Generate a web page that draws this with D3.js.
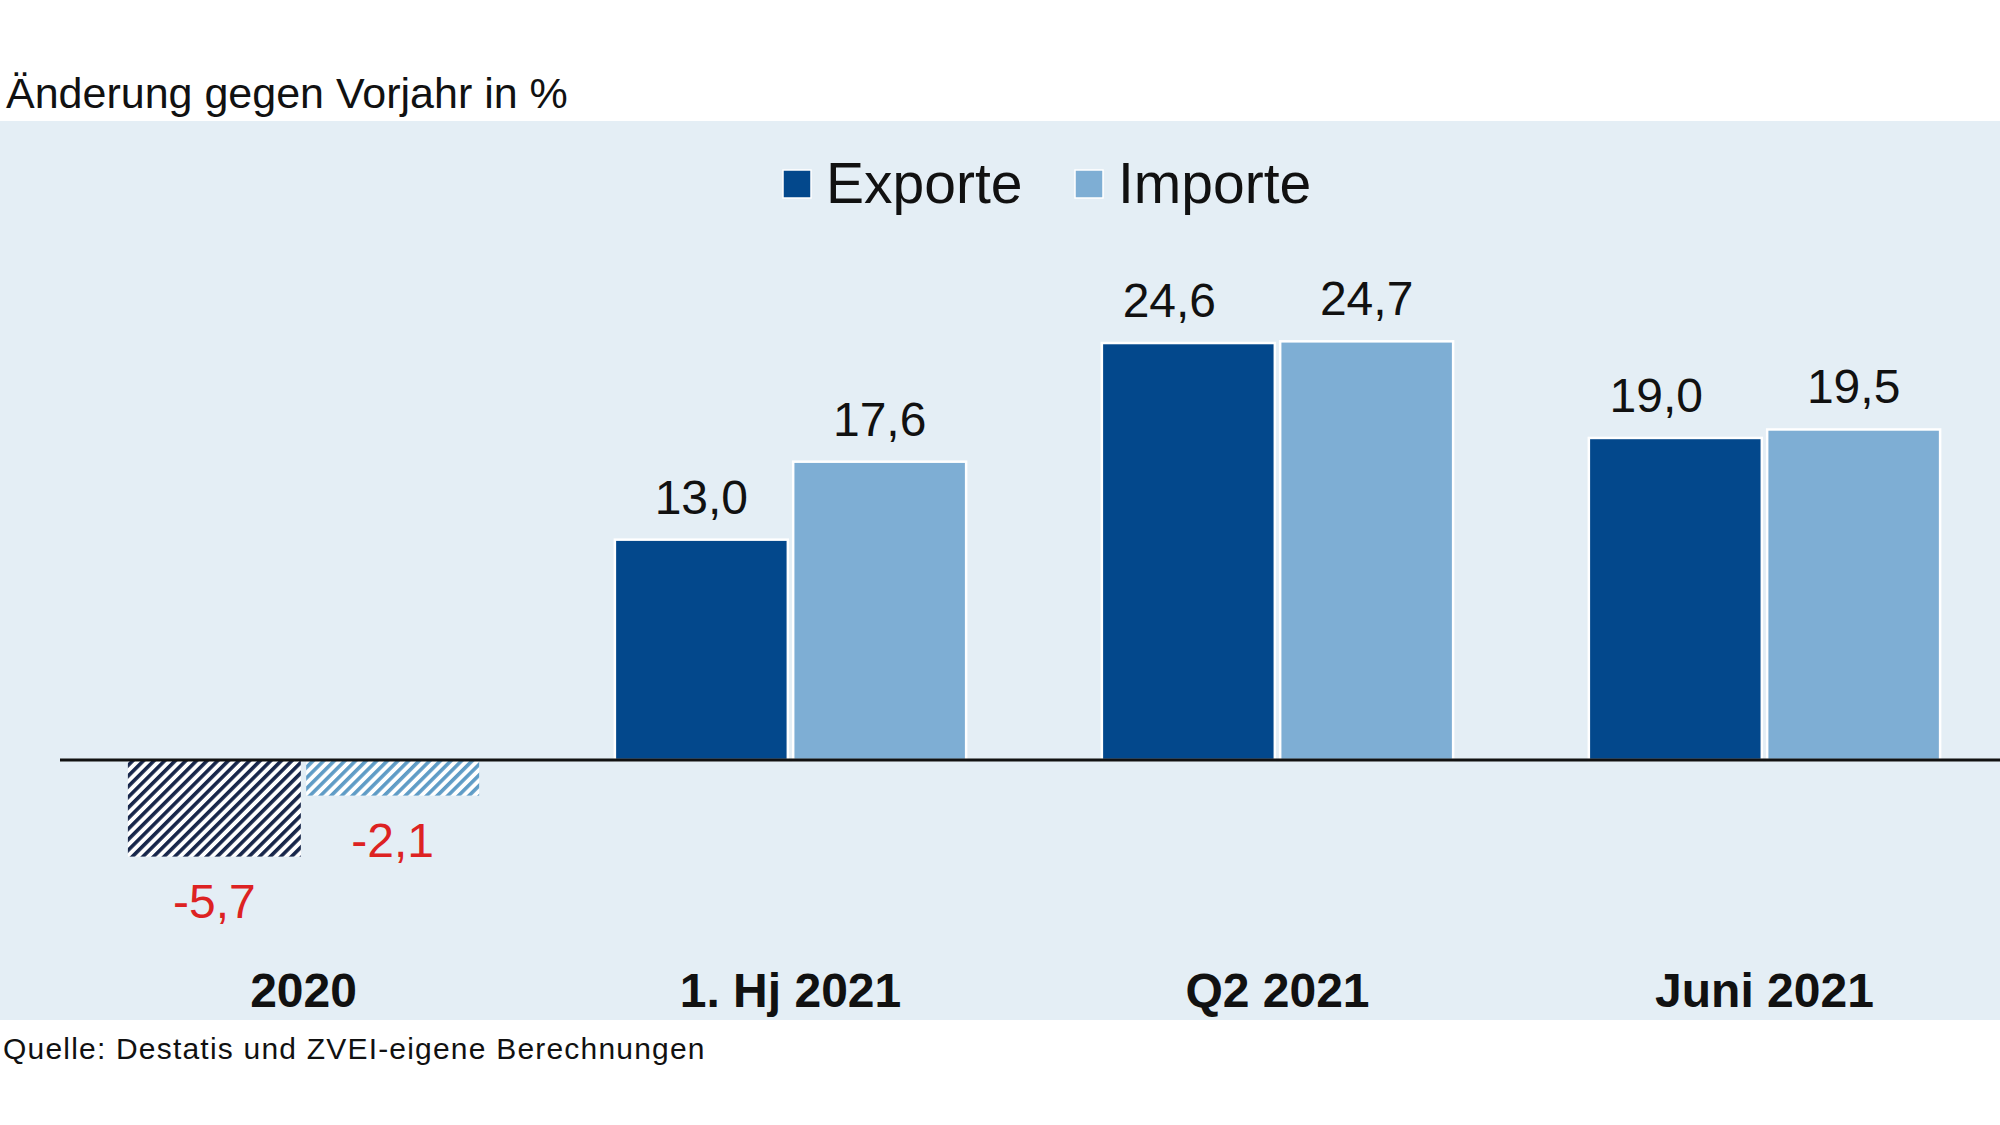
<!DOCTYPE html>
<html>
<head>
<meta charset="utf-8">
<script src="https://cdn.jsdelivr.net/npm/d3@7"></script>
<style>
    body { margin: 0; background: #ffffff; }
    svg text { font-family: "Liberation Sans", Arial, sans-serif; }
</style>
</head>
<body>
<div id="chart"></div>
<script>
// chart data
var categories = ["2020", "1. Hj 2021", "Q2 2021", "Juni 2021"];
var series = ["Exporte", "Importe"];
var exporte = [-5.7, 13.0, 24.6, 19.0];
var importe = [-2.1, 17.6, 24.7, 19.5];

var title = "Änderung gegen Vorjahr in %";
var source = "Quelle: Destatis und ZVEI-eigene Berechnungen";

var colors = {Exporte: "#03488c", Importe: "#7eaed4"};
var hatch_colors = {Exporte: "#17264a", Importe: "#5f9cc6"};

var width = 2000, height = 1125;

// german number format, 1 decimal
var de = d3.formatLocale({decimal: ",", thousands: ".", grouping: [3], currency: ["", " €"], minus: "-"});
var fmt = de.format(".1f");

var svg = d3.select("#chart").append("svg")
    .attr("width", width)
    .attr("height", height);

// hatch patterns for negative (preliminary) bars
var defs = svg.append("defs");
series.forEach(function(s) {
    var p = defs.append("pattern")
        .attr("id", "hatch-" + s)
        .attr("patternUnits", "userSpaceOnUse")
        .attr("width", 7.5)
        .attr("height", 7.5)
        .attr("patternTransform", "rotate(45)");
    p.append("rect").attr("width", 7.5).attr("height", 7.5).attr("fill", "#ffffff");
    p.append("rect").attr("width", 3.6).attr("height", 7.5).attr("fill", hatch_colors[s]);
});

// light panel
svg.append("rect")
    .attr("x", 0).attr("y", 121)
    .attr("width", width).attr("height", 899)
    .attr("fill", "#e4eef5");

svg.append("text")
    .attr("x", 6).attr("y", 108)
    .attr("font-size", 43)
    .attr("fill", "#111")
    .text(title);

svg.append("text")
    .attr("x", 3).attr("y", 1059)
    .attr("font-size", 30)
    .attr("letter-spacing", 1.2)
    .attr("fill", "#111")
    .text(source);

var x0 = d3.scaleBand()
    .domain(categories)
    .range([60, 2008])
    .paddingInner(0.2787)
    .paddingOuter(0.1394);

var x1 = d3.scaleBand()
    .domain(series)
    .range([0, x0.bandwidth()])
    .paddingInner(0.03);

var y = d3.scaleLinear()
    .domain([-10, 30])
    .range([760 + 169.5, 760 - 508.5]);

var rows = [];
categories.forEach(function(c, i) {
    rows.push({cat: c, s: "Exporte", v: exporte[i], other: importe[i]});
    rows.push({cat: c, s: "Importe", v: importe[i], other: exporte[i]});
});

var g = svg.append("g");

g.selectAll("rect.bar")
    .data(rows)
    .enter()
    .append("rect")
    .attr("class", "bar")
    .attr("x", function(d) { return x0(d.cat) + x1(d.s); })
    .attr("y", function(d) { return y(Math.max(0, d.v)); })
    .attr("width", x1.bandwidth())
    .attr("height", function(d) { return Math.abs(y(d.v) - y(0)); })
    .attr("fill", function(d) {
        return d.v < 0 ? "url(#hatch-" + d.s + ")" : colors[d.s];
    })
    .attr("stroke", function(d) { return d.v < 0 ? "none" : "#ffffff"; })
    .attr("stroke-width", 2.5);

// value labels
g.selectAll("text.val")
    .data(rows)
    .enter()
    .append("text")
    .attr("class", "val")
    .attr("x", function(d) {
        var cx = x0(d.cat) + x1(d.s) + x1.bandwidth() / 2;
        // nudge export label left when both bars are almost equal
        if (d.s == "Exporte" && d.v > 0 && Math.abs(d.v - d.other) < 2) {
            cx -= 19;
        }
        return cx;
    })
    .attr("y", function(d) {
        return d.v < 0 ? y(d.v) + 61 : y(d.v) - 26;
    })
    .attr("text-anchor", "middle")
    .attr("font-size", 48)
    .attr("fill", function(d) { return d.v < 0 ? "#dd2222" : "#111"; })
    .text(function(d) { return fmt(d.v); });

// zero line
svg.append("line")
    .attr("x1", 60).attr("x2", width)
    .attr("y1", y(0)).attr("y2", y(0))
    .attr("stroke", "#111")
    .attr("stroke-width", 3);

// category labels
svg.selectAll("text.cat")
    .data(categories)
    .enter()
    .append("text")
    .attr("class", "cat")
    .attr("x", function(d) { return x0(d) + x0.bandwidth() / 2; })
    .attr("y", 1007)
    .attr("text-anchor", "middle")
    .attr("font-size", 48)
    .attr("font-weight", "bold")
    .attr("fill", "#111")
    .text(function(d) { return d; });

// legend
var legend_x = [783, 1075];
var legend = svg.selectAll("g.legend")
    .data(series)
    .enter()
    .append("g")
    .attr("class", "legend")
    .attr("transform", function(d, i) { return "translate(" + legend_x[i] + ",170)"; });

legend.append("rect")
    .attr("width", 28)
    .attr("height", 28)
    .attr("fill", function(d) { return colors[d]; })
    .attr("stroke", "#ffffff")
    .attr("stroke-width", 1.5);

legend.append("text")
    .attr("x", 43)
    .attr("y", 33)
    .attr("font-size", 57)
    .attr("fill", "#111")
    .text(function(d) { return d; });
</script>
</body>
</html>
